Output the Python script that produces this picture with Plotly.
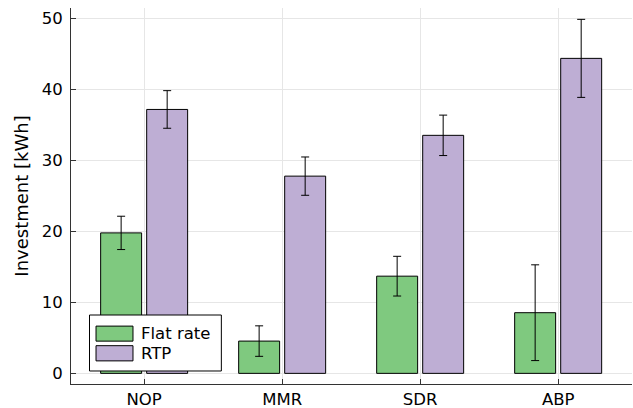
import plotly.graph_objects as go

categories = ["NOP", "MMR", "SDR", "ABP"]
flat_rate = [19.8, 4.55, 13.7, 8.55]
flat_err = [2.35, 2.15, 2.8, 6.75]
rtp = [37.2, 27.8, 33.55, 44.4]
rtp_err = [2.65, 2.7, 2.85, 5.5]

series = [("Flat rate", flat_rate, flat_err, "#7fc97f"),
          ("RTP", rtp, rtp_err, "#beaed4")]

font = "DejaVu Sans"
fig = go.Figure()
for name, vals, errs, col in series:
    fig.add_trace(go.Bar(
        x=categories, y=vals, name=name, showlegend=False,
        marker=dict(color=col, line=dict(color="black", width=1)),
        error_y=dict(type="data", array=errs, color="black", thickness=1, width=4),
    ))

# manual legend (wide swatches like the reference)
shapes = [dict(type="rect", xref="paper", yref="paper", x0=0.033, x1=0.268,
               y0=0.0346, y1=0.1835, line=dict(color="black", width=1),
               fillcolor="white", layer="above")]
annotations = []
rows = [(0.114, 0.154, 0.134), (0.0615, 0.1019, 0.0824)]
for (name, _, _, col), (y0, y1, yc) in zip(series, rows):
    shapes.append(dict(type="rect", xref="paper", yref="paper", x0=0.0446, x1=0.1105,
                       y0=y0, y1=y1, line=dict(color="black", width=1),
                       fillcolor=col, layer="above"))
    annotations.append(dict(xref="paper", yref="paper", x=0.1212, y=yc, text=name,
                            showarrow=False, xanchor="left", yanchor="middle",
                            font=dict(size=16.5, family=font, color="black")))

fig.update_layout(
    width=633, height=408,
    margin=dict(l=71, r=1, t=8, b=24),
    paper_bgcolor="white", plot_bgcolor="white",
    barmode="group", bargap=0.333, bargroupgap=0.11,
    font=dict(family=font, size=16.5, color="black"),
    shapes=shapes, annotations=annotations,
)
fig.update_xaxes(
    range=[-0.53, 3.535], showgrid=True, gridcolor="#e6e6e6", gridwidth=1,
    showline=True, linecolor="#333333", linewidth=1,
    ticks="inside", ticklen=5, tickcolor="#333333",
    tickfont=dict(size=16.5), zeroline=False, automargin=False,
)
fig.update_yaxes(
    range=[-1.5, 51.5], tickvals=[0, 10, 20, 30, 40, 50],
    showgrid=True, gridcolor="#e6e6e6", gridwidth=1,
    showline=True, linecolor="#333333", linewidth=1,
    ticks="inside", ticklen=5, tickcolor="#333333",
    tickfont=dict(size=16.5), zeroline=False, ticklabelstandoff=4,
    automargin=False,
    title=dict(text="Investment [kWh]", font=dict(size=18), standoff=8),
)

fig.write_html("out.html")
